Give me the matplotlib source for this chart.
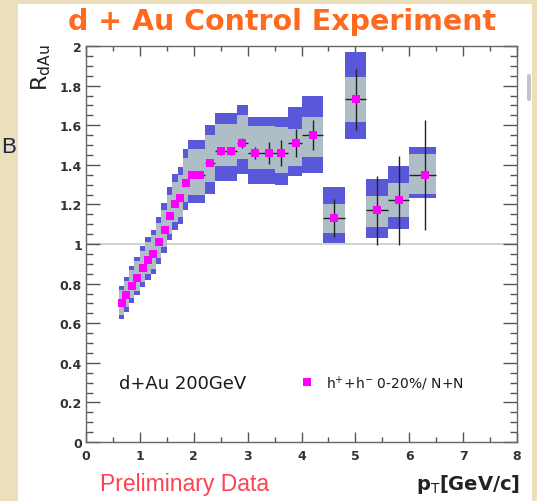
import matplotlib
matplotlib.use("Agg")
import matplotlib.pyplot as plt
from matplotlib.patches import Rectangle, FancyBboxPatch
from matplotlib.ticker import MultipleLocator, FuncFormatter

# --- data (R_dAu vs pT) ---
pt = [0.66, 0.75, 0.86, 0.95, 1.06, 1.15, 1.25, 1.35, 1.46, 1.56, 1.66, 1.75, 1.86, 1.96,
      2.12, 2.31, 2.50, 2.70, 2.90, 3.14, 3.40, 3.62, 3.89, 4.22, 4.61, 5.01, 5.41, 5.81, 6.29]
r_dau = [0.70, 0.74, 0.79, 0.83, 0.88, 0.92, 0.95, 1.01, 1.07, 1.14, 1.20, 1.23, 1.31, 1.35,
         1.35, 1.41, 1.47, 1.47, 1.51, 1.46, 1.46, 1.46, 1.51, 1.55, 1.13, 1.73, 1.17, 1.22, 1.35]
pt_edges = [0.61, 0.70, 0.80, 0.90, 1.00, 1.10, 1.20, 1.30, 1.40, 1.50, 1.60, 1.70, 1.80, 1.90,
            2.00, 2.20, 2.40, 2.60, 2.80, 3.00, 3.25, 3.50, 3.75, 4.00, 4.40, 4.80, 5.20, 5.60,
            6.00, 6.50]
stat_err = [0.005, 0.005, 0.005, 0.005, 0.006, 0.006, 0.006, 0.007, 0.007, 0.008, 0.008, 0.008,
            0.009, 0.01, 0.01, 0.012, 0.02, 0.02, 0.025, 0.03, 0.057, 0.065, 0.07, 0.075,
            0.096, 0.156, 0.173, 0.223, 0.277]
# inner (grey) systematic band
sys_in_up = [0.07, 0.073, 0.078, 0.082, 0.087, 0.09, 0.093, 0.098, 0.103, 0.11, 0.115, 0.118,
             0.125, 0.128, 0.128, 0.14, 0.135, 0.135, 0.14, 0.135, 0.135, 0.13, 0.07, 0.09,
             0.074, 0.112, 0.074, 0.09, 0.105]
sys_in_dn = [0.058, 0.06, 0.064, 0.067, 0.07, 0.073, 0.075, 0.079, 0.083, 0.087, 0.091, 0.093,
             0.098, 0.10, 0.10, 0.098, 0.076, 0.076, 0.08, 0.08, 0.08, 0.10, 0.115, 0.11,
             0.076, 0.115, 0.086, 0.085, 0.097]
# outer (blue) systematic band
sys_out_up = [0.09, 0.094, 0.10, 0.105, 0.111, 0.117, 0.121, 0.128, 0.136, 0.146, 0.156, 0.16,
              0.17, 0.175, 0.175, 0.19, 0.19, 0.19, 0.19, 0.18, 0.18, 0.18, 0.18, 0.20,
              0.16, 0.238, 0.158, 0.175, 0.138]
sys_out_dn = [0.078, 0.082, 0.086, 0.09, 0.095, 0.10, 0.103, 0.109, 0.115, 0.122, 0.128, 0.131,
              0.14, 0.145, 0.145, 0.156, 0.15, 0.15, 0.155, 0.155, 0.155, 0.16, 0.165, 0.19,
              0.126, 0.20, 0.141, 0.144, 0.119]

W, H = 537, 502
fig = plt.figure(figsize=(W / 100, H / 100), dpi=100)
fig.patch.set_facecolor("#ebdfbc")

# white slide panel
fig.patches.append(Rectangle((18 / W, 0), (532 - 18) / W, (H - 5) / H,
                             transform=fig.transFigure, facecolor="white",
                             edgecolor="none", zorder=-2))
fig.patches.append(FancyBboxPatch((527 / W, 1 - 102 / H), 4 / W, 27 / H,
                                  boxstyle="round,pad=0,rounding_size=0.004",
                                  transform=fig.transFigure, facecolor="#c4c4c8",
                                  edgecolor="none", zorder=-1))
fig.text(1 / W, 1 - 148 / H, "B", fontsize=16, color="#1c2448",
         ha="left", va="center", family="Liberation Sans")

ax = fig.add_axes([86 / W, 1 - 443 / H, 431 / W, 396 / H])
ax.set_zorder(2)
ax.set_facecolor("none")
ax.set_xlim(0, 8)
ax.set_ylim(0, 2)

ax.axhline(1.0, color="#cfcfcf", lw=1.3, zorder=1)

n = len(pt)
for i in range(n):
    x0, x1 = pt_edges[i], pt_edges[i + 1]
    ax.add_patch(Rectangle((x0, r_dau[i] - sys_out_dn[i]), x1 - x0,
                           sys_out_up[i] + sys_out_dn[i],
                           facecolor="#5858d8", edgecolor="none", zorder=2))
for i in range(n):
    x0, x1 = pt_edges[i], pt_edges[i + 1]
    ax.add_patch(Rectangle((x0, r_dau[i] - sys_in_dn[i]), x1 - x0,
                           sys_in_up[i] + sys_in_dn[i],
                           facecolor="#afbdc7", edgecolor="none", zorder=3))

xerr_lo = [pt[i] - pt_edges[i] for i in range(n)]
xerr_hi = [pt_edges[i + 1] - pt[i] for i in range(n)]
ax.errorbar(pt, r_dau, yerr=stat_err, xerr=[xerr_lo, xerr_hi], fmt="none",
            ecolor="#222222", elinewidth=1.0, capsize=0, zorder=4)
ax.plot(pt, r_dau, "s", color="#ff00ff", markersize=5.8, markeredgewidth=0, zorder=5)

# ROOT-like frame and ticks
for s in ax.spines.values():
    s.set_color("#666666")
    s.set_linewidth(1.0)
ax.xaxis.set_major_locator(MultipleLocator(1))
ax.xaxis.set_minor_locator(MultipleLocator(0.5))
ax.yaxis.set_major_locator(MultipleLocator(0.2))
ax.yaxis.set_minor_locator(MultipleLocator(0.05))
ax.yaxis.set_major_formatter(FuncFormatter(lambda v, p: "%g" % round(v, 2)))
ax.tick_params(axis="both", which="both", direction="in", top=True, right=True,
               color="#555555", width=1.0, labelcolor="#333333")
ax.tick_params(axis="x", which="major", length=7, pad=5)
ax.tick_params(axis="x", which="minor", length=3.5)
ax.tick_params(axis="y", which="major", length=10, pad=3)
ax.tick_params(axis="y", which="minor", length=5)
for lab in ax.get_xticklabels() + ax.get_yticklabels():
    lab.set_fontsize(9)
    lab.set_fontweight("bold")

# legend-like labels
ax.text(0.61, 0.30, "d+Au 200GeV", fontsize=13, color="#1a1a1a", va="center")
ax.plot([4.1], [0.302], "s", color="#ff00ff", markersize=5.5, markeredgewidth=0)
ax.text(4.45, 0.30, r"h$^{+}$+h$^{-}$ 0-20%/ N+N", fontsize=10, color="#1a1a1a",
        va="center")

# titles
fig.text(282 / W, 1 - 22 / H, "d + Au Control Experiment", fontsize=20.5,
         fontweight="bold", color="#ff6a1e", ha="center", va="center")
fig.text(41 / W, 1 - 68 / H, r"R$_{\rm dAu}$", fontsize=16, rotation=90,
         ha="center", va="center", color="#222222")
fig.text(520 / W, 1 - 485 / H, r"p$_{\rm T}$[GeV/c]", fontsize=14, fontweight="bold",
         ha="right", va="center", color="#222222")
fig.text(185 / W, 1 - 485 / H, "Preliminary Data", fontsize=16.5, color="#ff4050",
         ha="center", va="center", family="Liberation Sans")

fig.savefig("out.png", dpi=100)
